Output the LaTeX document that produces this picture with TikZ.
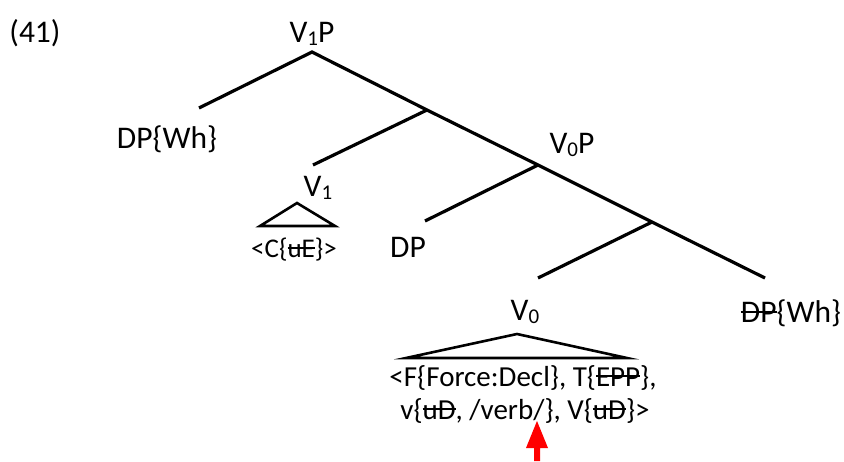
\documentclass[tikz,border=0pt]{standalone}
\usepackage{fontspec}
\setmainfont{Carlito}
\newcommand\stk[1]{\leavevmode\setbox0\hbox{#1}\rlap{\rule[0.3em]{\wd0}{0.065em}}\box0}
\newcommand\sbs[1]{\raisebox{-3pt}{\fontsize{21}{21}\selectfont #1}}
\begin{document}
\begin{tikzpicture}[x=1pt,y=-1pt,
  branch/.style={line width=3.2pt},
  tri/.style={line width=2.6pt, line join=miter},
  lbl/.style={inner sep=0pt, anchor=base, font=\fontsize{31.5}{36}\selectfont},
  feature/.style={inner sep=0pt, anchor=base, font=\fontsize{29}{33}\selectfont},
  small/.style={inner sep=0pt, anchor=base, font=\fontsize{27}{30}\selectfont}]
\useasboundingbox (0,0) rectangle (844,461);
% labels
\node[lbl] (ex) at (35,42) {(41)};
\node[lbl] (v1p) at (312,42) {V\sbs{1}P};
\node[lbl] (dpwh) at (167,148) {DP\{Wh\}};
\node[lbl] (v0p) at (572,153) {V\sbs{0}P};
\node[lbl] (v1) at (318,196) {V\sbs{1}};
\node[small] (cue) at (294,257) {<C\{\stk{uE}\}>};
\node[lbl] (dp) at (408,257) {DP};
\node[lbl] (v0) at (525,320) {V\sbs{0}};
\node[lbl] (dpwh2) at (791,322) {\stk{DP}\{Wh\}};
\node[feature] (feat1) at (523,386) {<F\{Force:Decl\}, T\{\stk{EPP}\},};
\node[feature] (feat2) at (525,419) {v\{\stk{uD}, /verb/\}, V\{\stk{uD}\}>};
% branch points
\coordinate (r) at (312,52);
\coordinate (a) at (427,110);
\coordinate (b) at (538,165);
\coordinate (c) at (652,222);
\coordinate (lDP) at (199,108);
\coordinate (lV1) at (313,165);
\coordinate (lDP2) at (425,221);
\coordinate (lV0) at (538,278);
\coordinate (rDP) at (765,278);
\draw[branch] (lDP) -- (r) -- (a) -- (b) -- (c) -- (rDP);
\draw[branch] (a) -- (lV1);
\draw[branch] (b) -- (lDP2);
\draw[branch] (c) -- (lV0);
% triangles
\coordinate (t1) at (297,203);
\draw[tri] (t1) -- (260,226) -- (335,226) -- cycle;
\coordinate (t0) at (517,334);
\draw[tri] (t0) -- (406,358) -- (627,358) -- cycle;
% red arrow
\coordinate (atip) at (537,421);
\fill[red] (atip) -- (548,448) -- (540,448) -- (540,461) -- (534,461) -- (534,448) -- (526,448) -- cycle;
\end{tikzpicture}
\end{document}
